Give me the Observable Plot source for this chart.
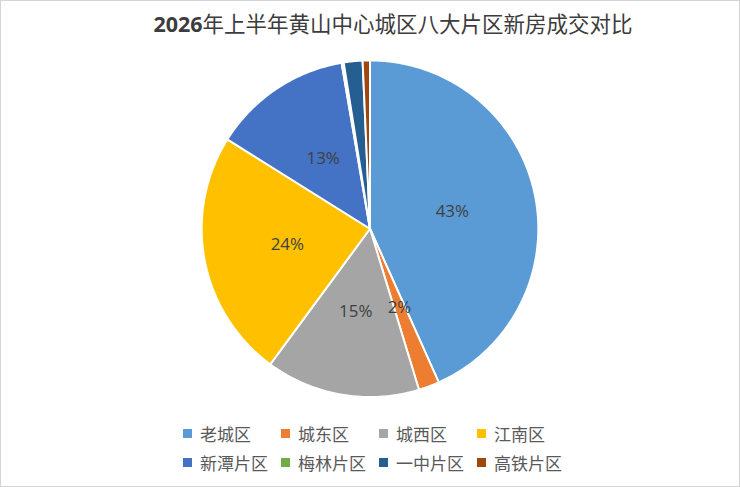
<!DOCTYPE html>
<html>
<head>
<meta charset="utf-8">
<script src="https://cdn.jsdelivr.net/npm/d3@7"></script>
<script src="https://cdn.jsdelivr.net/npm/@observablehq/plot@0.6"></script>
<style>
  html, body { margin: 0; padding: 0; background: #fff; }
  #wrap { position: relative; width: 740px; height: 487px; box-sizing: border-box; border: 1px solid #d4d4d4; overflow: hidden; font-family: "Noto Sans CJK SC", "Noto Sans", sans-serif; }
  #title { position: absolute; left: 22px; top: 6px; width: 740px; text-align: center; font-size: 21.5px; font-weight: 400; color: #3c3c3c; }
  #title b { font-family: "Open Sans", "Noto Sans", sans-serif; font-weight: 700; }
  #chart { position: absolute; left: -1px; top: 43px; }
  #legend { position: absolute; left: 182px; top: 418px; display: grid; grid-template-columns: repeat(4, 98px); grid-auto-rows: 29px; }
  .item { display: flex; align-items: center; font-size: 17px; color: #595959; white-space: nowrap; }
  .sw { width: 9px; height: 9px; margin-right: 8px; flex: none; }
</style>
</head>
<body>
<div id="wrap">
  <div id="title"></div>
  <div id="chart"></div>
  <div id="legend"></div>
</div>
<script>
const titleYear = "2026";
const titleRest = "年上半年黄山中心城区八大片区新房成交对比";
const categories = ["老城区", "城东区", "城西区", "江南区", "新潭片区", "梅林片区", "一中片区", "高铁片区"];
const shares = [43.3, 2.0, 14.8, 23.8, 13.4, 0.2, 1.8, 0.7];
const colors = ["#5B9BD5", "#ED7D31", "#A5A5A5", "#FFC000", "#4472C4", "#70AD47", "#255E91", "#9E480E"];
const labelled = [true, true, true, true, true, false, false, false];

const titleEl = document.getElementById("title");
const yb = document.createElement("b");
yb.textContent = titleYear;
titleEl.appendChild(yb);
titleEl.appendChild(document.createTextNode(titleRest));

const data = categories.map((c, i) => ({category: c, value: shares[i], color: colors[i], show: labelled[i]}));
const total = d3.sum(shares);
const arcs = d3.pie().value(d => d.value).sort(null)(data);

// polygon outline of each slice (unit radius), derived from pie angles
const outline = [];
const labels = [];
arcs.forEach(a => {
  const cat = a.data.category;
  outline.push({category: cat, x: 0, y: 0});
  const n = Math.max(2, Math.ceil((a.endAngle - a.startAngle) / 0.01));
  for (let k = 0; k <= n; k++) {
    const t = a.startAngle + (a.endAngle - a.startAngle) * k / n;
    outline.push({category: cat, x: Math.sin(t), y: Math.cos(t)});
  }
  outline.push({category: cat, x: 0, y: 0});
  if (a.data.show) {
    const m = (a.startAngle + a.endAngle) / 2;
    labels.push({x: 0.5 * Math.sin(m), y: 0.5 * Math.cos(m), text: Math.round(a.data.value / total * 100) + "%"});
  }
});

const chart = Plot.plot({
  width: 742,
  height: 370,
  marginLeft: 202,
  marginRight: 202,
  marginTop: 16,
  marginBottom: 16,
  x: {domain: [-1, 1], axis: null},
  y: {domain: [-1, 1], axis: null},
  color: {domain: categories, range: colors},
  marks: [
    Plot.line(outline, {x: "x", y: "y", z: "category", fill: "category", stroke: "white", strokeWidth: 2, curve: "linear"}),
    Plot.text(labels, {x: "x", y: "y", text: "text", fill: "#404040", fontSize: 17, fontFamily: "Open Sans, Noto Sans, sans-serif"})
  ]
});
document.getElementById("chart").appendChild(chart);

const legend = document.getElementById("legend");
categories.forEach((c, i) => {
  const it = document.createElement("div");
  it.className = "item";
  const sw = document.createElement("span");
  sw.className = "sw";
  sw.style.background = colors[i];
  it.appendChild(sw);
  it.appendChild(document.createTextNode(c));
  legend.appendChild(it);
});
</script>
</body>
</html>
